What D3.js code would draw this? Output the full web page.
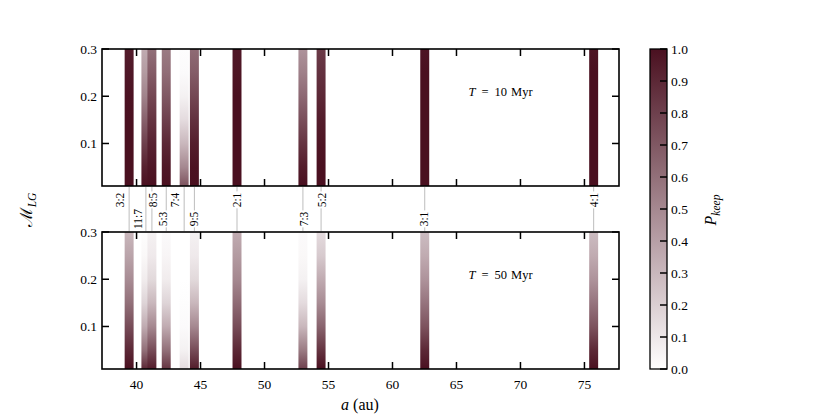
<!DOCTYPE html>
<html><head><meta charset="utf-8">
<script src="https://cdn.jsdelivr.net/npm/d3@7"></script>
<style>
body{margin:0;background:#fff}
svg{display:block}
text{font-family:"Liberation Serif","DejaVu Serif",serif;fill:#000}
</style>
</head><body>
<svg id="c" width="830" height="415"></svg>
<script>
// ---------------- DATA ----------------
const mLevels = [0.01, 0.05, 0.10, 0.15, 0.20, 0.25, 0.30];
const resonances = ["3:2","11:7","8:5","5:3","7:4","9:5","2:1","7:3","5:2","3:1","4:1"];
const aRes = [39.42, 40.73, 41.20, 42.32, 43.72, 44.52, 47.85, 53.00, 54.42, 62.52, 75.72];
// P_keep at each mLevel (rows follow resonances)
const pKeep10 = [
  [1.00,1.00,1.00,1.00,0.99,0.97,0.95],
  [1.00,0.93,0.80,0.66,0.52,0.42,0.35],
  [1.00,0.97,0.92,0.85,0.77,0.68,0.60],
  [1.00,0.97,0.90,0.80,0.70,0.61,0.55],
  [0.72,0.50,0.30,0.15,0.06,0.02,0.01],
  [1.00,0.99,0.94,0.86,0.77,0.68,0.62],
  [1.00,1.00,1.00,1.00,1.00,0.98,0.97],
  [1.00,0.95,0.85,0.74,0.63,0.53,0.45],
  [1.00,1.00,0.98,0.95,0.90,0.86,0.82],
  [1.00,1.00,1.00,1.00,1.00,1.00,0.98],
  [1.00,1.00,1.00,1.00,1.00,1.00,0.98]
];
const pKeep50 = [
  [1.00,0.90,0.75,0.60,0.48,0.38,0.30],
  [0.90,0.60,0.35,0.18,0.08,0.03,0.01],
  [0.95,0.75,0.50,0.30,0.16,0.09,0.06],
  [0.85,0.60,0.35,0.18,0.08,0.04,0.02],
  [0.15,0.06,0.02,0.01,0.00,0.00,0.00],
  [0.95,0.75,0.50,0.30,0.16,0.09,0.06],
  [1.00,0.90,0.75,0.62,0.50,0.42,0.35],
  [0.80,0.55,0.30,0.15,0.06,0.03,0.02],
  [1.00,0.85,0.65,0.48,0.35,0.22,0.15],
  [1.00,0.90,0.72,0.58,0.45,0.35,0.28],
  [1.00,0.90,0.72,0.58,0.45,0.35,0.28]
];
const panelTimes = ["10", "50"];
const xTicks = [40, 45, 50, 55, 60, 65, 70, 75];
const yTicks = [0.1, 0.2, 0.3];
const cbTicks = [0.0,0.1,0.2,0.3,0.4,0.5,0.6,0.7,0.8,0.9,1.0];

// ---------------- LAYOUT ----------------
const L = 102, R = 619;
const panels = [{top:49, bottom:186, data:pKeep10, t:panelTimes[0]},
                {top:232, bottom:369, data:pKeep50, t:panelTimes[1]}];
const barHalf = 0.35;              // au
const tickLen = 7;
// label placement in the band between panels (au position, row)
const labelA = [38.71, 40.14, 41.32, 42.10, 43.02, 44.52, 47.87, 53.10, 54.49, 62.50, 75.72];
const labelRowY = [200, 219];
const labelRow = [0,1,0,1,0,1,0,1,0,1,0];

const svg = d3.select("#c");
svg.append("rect").attr("width",830).attr("height",415).attr("fill","#fff");
const defs = svg.append("defs");

const x = d3.scaleLinear().domain([37.3, 77.7]).range([L, R]);
const color = d3.scaleLinear().domain([0,1]).range(["#ffffff","#4a1020"]).interpolate(d3.interpolateRgb);

panels.forEach((p, pi) => {
  const y = d3.scaleLinear().domain([0.01, 0.30]).range([p.bottom, p.top]);
  const g = svg.append("g");
  resonances.forEach((r, i) => {
    const id = `grad${pi}_${i}`;
    const gr = defs.append("linearGradient").attr("id", id)
      .attr("gradientUnits","userSpaceOnUse")
      .attr("x1",0).attr("x2",0).attr("y1",y(0.01)).attr("y2",y(0.30));
    mLevels.forEach((m, k) => {
      gr.append("stop").attr("offset", (m-0.01)/0.29).attr("stop-color", color(p.data[i][k]));
    });
    g.append("rect")
      .attr("x", x(aRes[i]-barHalf)).attr("width", x(aRes[i]+barHalf)-x(aRes[i]-barHalf))
      .attr("y", y(0.30)).attr("height", y(0.01)-y(0.30))
      .attr("fill", `url(#${id})`);
  });
  // ticks (inward, all sides)
  const tk = svg.append("g").attr("stroke","#000").attr("stroke-width",1.5);
  xTicks.forEach(v => {
    tk.append("line").attr("x1",x(v)).attr("x2",x(v)).attr("y1",p.bottom).attr("y2",p.bottom-tickLen);
    tk.append("line").attr("x1",x(v)).attr("x2",x(v)).attr("y1",p.top).attr("y2",p.top+tickLen);
  });
  yTicks.forEach(v => {
    tk.append("line").attr("x1",L).attr("x2",L+tickLen).attr("y1",y(v)).attr("y2",y(v));
    tk.append("line").attr("x1",R).attr("x2",R-tickLen).attr("y1",y(v)).attr("y2",y(v));
    svg.append("text").attr("x",L-5).attr("y",y(v)).attr("text-anchor","end")
      .attr("dominant-baseline","central").attr("font-size",13.5).text(v.toFixed(1));
  });
  // frame
  svg.append("rect").attr("x",L).attr("y",p.top).attr("width",R-L).attr("height",p.bottom-p.top)
    .attr("fill","none").attr("stroke","#000").attr("stroke-width",1.6);
  // annotation
  const tt = svg.append("text").attr("x", L + 0.709*(R-L)).attr("y", p.top + 47)
    .attr("font-size",12.5);
  tt.append("tspan").attr("font-style","italic").text("T");
  tt.append("tspan").attr("dx",6).text("=");
  tt.append("tspan").attr("dx",6).text(p.t);
  tt.append("tspan").attr("dx",4).text("Myr");
  if (pi === 1) {
    xTicks.forEach(v => {
      svg.append("text").attr("x",x(v)).attr("y",p.bottom+20).attr("text-anchor","middle")
        .attr("font-size",13.5).text(v);
    });
  }
});

// connectors + resonance labels
const band = svg.append("g");
resonances.forEach((r, i) => {
  band.append("line").attr("x1",x(aRes[i])).attr("x2",x(aRes[i]))
    .attr("y1",panels[0].bottom+1).attr("y2",panels[1].top-1)
    .attr("stroke","#bdbdbd").attr("stroke-width",1);
});
resonances.forEach((r, i) => {
  const gg = band.append("g")
    .attr("transform",`translate(${x(labelA[i])},${labelRowY[labelRow[i]]}) rotate(-90)`);
  const bg = gg.append("rect").attr("fill","#fff");
  const t = gg.append("text").attr("text-anchor","middle").attr("dominant-baseline","central")
    .attr("font-size",11.5).attr("fill","#222").text(r);
  const bb = t.node().getBBox();
  bg.attr("x",bb.x-1).attr("y",bb.y+1).attr("width",bb.width+2).attr("height",bb.height-2);
});

// axis labels
const xl = svg.append("text").attr("x",360).attr("y",410).attr("text-anchor","middle").attr("font-size",16);
xl.append("tspan").attr("font-style","italic").text("a");
xl.append("tspan").text(" (au)");

const yl = svg.append("text").attr("transform","translate(32,210) rotate(-90)")
  .attr("text-anchor","middle").attr("font-size",17);
yl.append("tspan").attr("font-family","DejaVu Serif").text("ℳ");
yl.append("tspan").attr("font-size",11.5).attr("font-style","italic").attr("dy",4).text("LG");

// colorbar
const cbL = 650, cbR = 667, cbT = 49, cbB = 369;
const yc = d3.scaleLinear().domain([0,1]).range([cbB, cbT]);
const cg = defs.append("linearGradient").attr("id","cbgrad").attr("gradientUnits","userSpaceOnUse")
  .attr("x1",0).attr("x2",0).attr("y1",cbB).attr("y2",cbT);
cbTicks.forEach(v => cg.append("stop").attr("offset",v).attr("stop-color",color(v)));
svg.append("rect").attr("x",cbL).attr("y",cbT).attr("width",cbR-cbL).attr("height",cbB-cbT)
  .attr("fill","url(#cbgrad)").attr("stroke","#000").attr("stroke-width",1.3);
cbTicks.forEach(v => {
  svg.append("line").attr("x1",cbR).attr("x2",cbR-tickLen).attr("y1",yc(v)).attr("y2",yc(v))
    .attr("stroke","#000").attr("stroke-width",1.5);
  svg.append("text").attr("x",cbR+4).attr("y",yc(v)).attr("dominant-baseline","central")
    .attr("font-size",13.5).text(v.toFixed(1));
});
const cl = svg.append("text").attr("transform","translate(716,210) rotate(-90)")
  .attr("text-anchor","middle").attr("font-size",16);
cl.append("tspan").attr("font-style","italic").text("P");
cl.append("tspan").attr("font-style","italic").attr("font-size",11.5).attr("dy",4).text("keep");
</script>
</body></html>
